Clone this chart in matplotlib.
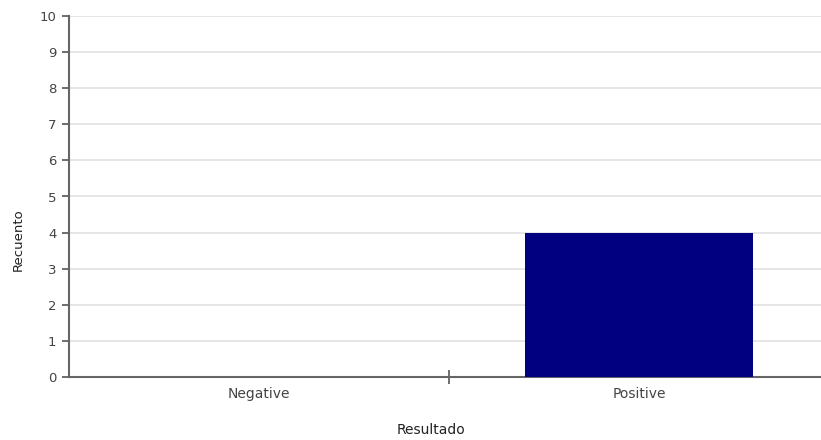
import matplotlib
matplotlib.use("Agg")
import matplotlib.pyplot as plt

categories = ["Negative", "Positive"]
counts = [0, 4]
y_ticks = list(range(0, 11))

fig = plt.figure(figsize=(8.21, 4.40), dpi=100)
ax = fig.add_axes([69/821, 1 - 377/440, 1 - 69/821, (377 - 16)/440])

x = list(range(len(categories)))
ax.bar(x, counts, width=0.6, color="#000080", linewidth=0, zorder=3)

ax.set_xlim(-0.5, 1.479)
ax.set_ylim(0, 10)
ax.set_yticks(y_ticks)
ax.set_yticklabels([str(v) for v in y_ticks], fontsize=9.5, color="#444444")
ax.yaxis.grid(True, color="#e2e2e2", linewidth=1.2, zorder=0)
ax.set_axisbelow(True)

ax.set_xticks([0.5])
ax.set_xticklabels([""])
ax.tick_params(axis="x", direction="inout", length=10, width=1.2, color="#555555")
ax.tick_params(axis="y", direction="out", length=5, width=1.2, color="#555555", pad=4)
for i, c in enumerate(categories):
    ax.text(i, -0.28, c, ha="center", va="top", fontsize=10, color="#444444",
            transform=ax.transData)

for s in ["top", "right"]:
    ax.spines[s].set_visible(False)
for s in ["left", "bottom"]:
    ax.spines[s].set_color("#666666")
    ax.spines[s].set_linewidth(1.5)

fig.text(18/821, 1 - 240/440, "Recuento", rotation=90, ha="center", va="center",
         fontsize=9.5, color="#222222")
fig.text(431/821, 1 - 430/440, "Resultado", ha="center", va="center",
         fontsize=10, color="#222222")

fig.savefig("out.png", dpi=100)
